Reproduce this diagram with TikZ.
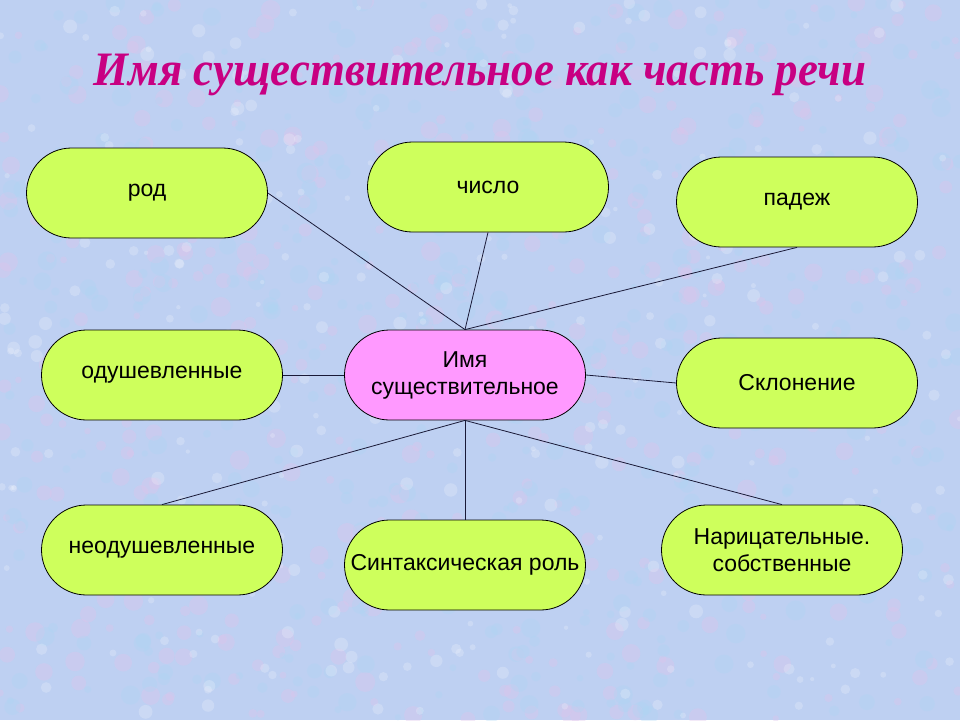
\documentclass[tikz,border=0pt]{standalone}
\usepackage{fontspec}
\setmainfont{Liberation Sans}
\newfontfamily\titlefont{Liberation Serif}
\usetikzlibrary{shapes.misc}
\definecolor{bgblue}{RGB}{190,208,242}
\definecolor{bgpink}{RGB}{222,196,236}
\definecolor{bgcyan}{RGB}{172,214,244}
\definecolor{leaf}{RGB}{206,255,92}
\definecolor{hub}{RGB}{255,153,255}
\definecolor{titlemag}{RGB}{200,0,130}
\definecolor{linecol}{RGB}{25,25,55}
\tikzset{
  pill/.style={rounded rectangle, draw=black, line width=0.8pt, fill=leaf,
    minimum width=241pt, minimum height=90pt, inner sep=0pt,
    font=\fontsize{23}{27}\selectfont, align=center, text=black},
  hubpill/.style={pill, fill=hub},
  link/.style={draw=linecol, line width=0.8pt}
}
\begin{document}
\begin{tikzpicture}[x=1pt,y=-1pt]
\useasboundingbox (0,0) rectangle (960,720);
\fill[bgblue] (0,0) rectangle (960,720);
\begin{scope}
\clip (0,0) rectangle (960,720);
\pgfmathsetseed{7}
\foreach \i in {1,...,500}{
  \pgfmathsetmacro{\px}{rnd*960}
  \pgfmathsetmacro{\py}{rnd*720}
  \pgfmathsetmacro{\pr}{3+rnd*7}
  \fill[bgpink, opacity=0.35] (\px,\py) circle (\pr);
}
\foreach \i in {1,...,500}{
  \pgfmathsetmacro{\px}{rnd*960}
  \pgfmathsetmacro{\py}{rnd*720}
  \pgfmathsetmacro{\pr}{3+rnd*7}
  \fill[bgcyan, opacity=0.3] (\px,\py) circle (\pr);
}
\foreach \i in {1,...,300}{
  \pgfmathsetmacro{\px}{rnd*960}
  \pgfmathsetmacro{\py}{rnd*720}
  \pgfmathsetmacro{\pr}{2+rnd*5}
  \fill[white, opacity=0.2] (\px,\py) circle (\pr);
}
\end{scope}
% title
\node[text=titlemag] (title) at (480,75) {\titlefont\bfseries\itshape\fontsize{48}{52}\selectfont
  \scalebox{0.935}[1]{Имя существительное как часть речи}};
% nodes
\node[pill] (rod) at (147,193) {род};
\node[pill] (chislo) at (488,187) {число};
\node[pill] (padezh) at (797,202) {падеж};
\node[pill] (odush) at (162,375) {одушевленные};
\node[hubpill] (hub) at (465,375) {Имя\\существительное};
\node[pill] (sklon) at (797,383) {Склонение};
\node[pill] (neodush) at (162,550) {неодушевленные};
\node[pill] (sintax) at (465,565) {Синтаксическая роль};
\node[pill] (naric) at (782,550) {Нарицательные.\\собственные};
% links
\draw[link] (hub.north) -- (rod.east);
\draw[link] (hub.north) -- (chislo.south);
\draw[link] (hub.north) -- (padezh.south);
\draw[link] (hub.west) -- (odush.east);
\draw[link] (hub.east) -- (sklon.west);
\draw[link] (hub.south) -- (neodush.north);
\draw[link] (hub.south) -- (sintax.north);
\draw[link] (hub.south) -- (naric.north);
\end{tikzpicture}
\end{document}
